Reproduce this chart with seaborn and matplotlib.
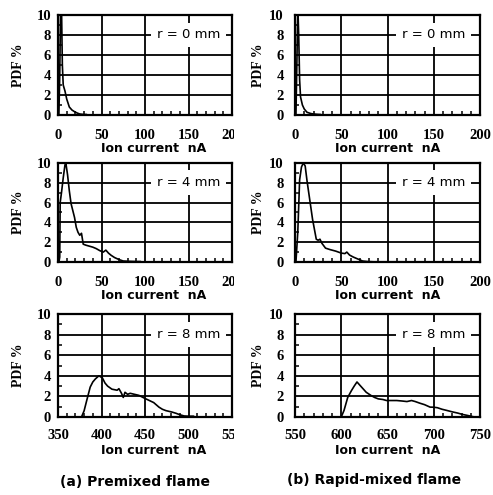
import matplotlib
matplotlib.use('Agg')
import matplotlib.pyplot as plt
import seaborn as sns
import pandas as pd
from matplotlib.ticker import MultipleLocator
from matplotlib.transforms import Bbox, TransformedBbox

# --- data (ion current nA, PDF %) ---
a0_x = [1, 2, 3, 4, 5, 6, 8, 10, 13, 16, 19, 22, 25, 29, 33]
a0_y = [0, 4, 11, 11, 5, 3.0, 2.4, 1.6, 0.8, 0.5, 0.33, 0.2, 0.1, 0.06, 0.05]

b0_x = [1, 2, 3, 4, 5, 6, 8, 10, 13, 17, 20, 24, 28]
b0_y = [0, 5, 11, 8, 3.5, 1.8, 1.0, 0.6, 0.27, 0.15, 0.1, 0.07, 0.05]

a4_x = [1, 2, 2.5, 4, 6, 8, 9, 11, 13, 15, 17, 19, 21, 23, 25, 27, 29, 32, 36, 40,
        44, 48, 52, 55, 58, 61, 65, 70, 75, 82, 90, 95]
a4_y = [0, 0.5, 6.0, 7.0, 8.5, 9.8, 10.0, 8.8, 7.2, 5.9, 5.2, 4.5, 3.5, 3.0, 2.7, 2.9,
        1.8, 1.7, 1.6, 1.5, 1.35, 1.15, 1.0, 1.2, 0.9, 0.68, 0.45, 0.25, 0.1, 0.07, 0.05, 0.05]

b4_x = [1, 3, 5, 7, 9, 11, 13, 15, 17, 19, 21, 23, 25, 27, 29, 33, 38, 44, 50, 54,
        56, 59, 63, 68, 73, 78, 85, 95, 105, 117]
b4_y = [0, 3, 8.3, 9.6, 10, 9.7, 8.2, 6.9, 5.6, 4.3, 3.3, 2.3, 2.2, 2.3, 1.9, 1.4,
        1.25, 1.1, 0.9, 0.85, 1.0, 0.7, 0.5, 0.3, 0.1, 0.05, 0.02, 0.02, 0.02, 0.02]

a8_x = [377, 380, 383, 387, 390, 393, 397, 401, 404, 407, 412, 418, 420, 423, 425, 427,
        430, 433, 438, 443, 450, 455, 460, 466, 470, 474, 481, 486, 490, 495, 500, 506]
a8_y = [0, 0.6, 1.6, 2.9, 3.4, 3.7, 4.0, 3.8, 3.3, 3.0, 2.7, 2.6, 2.75, 2.3, 1.9, 2.4,
        2.2, 2.3, 2.2, 2.1, 1.8, 1.6, 1.4, 0.96, 0.75, 0.62, 0.48, 0.35, 0.22, 0.1, 0.08, 0.08]

b8_x = [600, 603, 607, 611, 614, 617, 619, 622, 627, 632, 636, 640, 645, 649, 655, 660,
        666, 671, 676, 680, 685, 690, 696, 700, 704, 709, 714, 720, 726, 731, 736, 740, 744]
b8_y = [0, 0.64, 1.9, 2.56, 3.0, 3.4, 3.2, 2.9, 2.4, 2.1, 1.9, 1.76, 1.7, 1.6, 1.6, 1.6,
        1.55, 1.5, 1.6, 1.5, 1.34, 1.2, 0.96, 0.95, 0.9, 0.75, 0.64, 0.5, 0.38, 0.25, 0.16, 0.08, 0.0]

radii = ['r = 0 mm', 'r = 4 mm', 'r = 8 mm']
captions = ['(a) Premixed flame', '(b) Rapid-mixed flame']
y_ticks = [0, 2, 4, 6, 8, 10]

sns.set_style("ticks")
plt.rcParams['font.family'] = ['DejaVu Sans']
plt.rcParams['text.color'] = 'black'
plt.rcParams['axes.labelcolor'] = 'black'
plt.rcParams['xtick.color'] = 'black'
plt.rcParams['ytick.color'] = 'black'

W, H = 493, 495
fig = plt.figure(figsize=(W / 100, H / 100), dpi=100)

# panel boxes in pixels: (left, top, right, bottom)
cols = [(58, 232), (295, 480)]
rows = [(15, 115), (163, 262), (314, 417)]
ylab_right = [25, 265]

panels = [
    [(a0_x, a0_y, (0, 200)), (b0_x, b0_y, (0, 200))],
    [(a4_x, a4_y, (0, 200)), (b4_x, b4_y, (0, 200))],
    [(a8_x, a8_y, (350, 550)), (b8_x, b8_y, (550, 750))],
]

tick_font = dict(family='Liberation Serif', weight='bold', size=10.5)

for i, (top, bot) in enumerate(rows):
    for j, (lft, rgt) in enumerate(cols):
        xs, ys, xl = panels[i][j]
        ax = fig.add_axes([lft / W, 1 - bot / H, (rgt - lft) / W, (bot - top) / H])
        df = pd.DataFrame({'x': xs, 'y': ys})
        sns.lineplot(data=df, x='x', y='y', ax=ax, color='black', lw=1.2,
                     sort=False, estimator=None)
        ax.set_xlim(*xl)
        ax.set_ylim(0, 10)
        step = (xl[1] - xl[0]) / 4
        xt = [xl[0] + k * step for k in range(5)]
        ax.set_xticks(xt)
        ax.set_xticklabels([str(int(v)) for v in xt], fontdict=tick_font)
        ax.set_yticks(y_ticks)
        ax.set_yticklabels([str(v) for v in y_ticks], fontdict=tick_font)
        ax.xaxis.set_minor_locator(MultipleLocator(10))
        ax.yaxis.set_minor_locator(MultipleLocator(1))
        ax.tick_params(axis='x', which='major', direction='in', length=0, pad=10 if i < 2 else 8.5)
        ax.tick_params(axis='y', which='major', direction='in', length=0, pad=5 if j == 0 else 8)
        ax.tick_params(which='minor', direction='in', length=3, width=1.1, color='black')
        ax.grid(True, which='major', color='black', lw=1.3)
        for s in ax.spines.values():
            s.set_linewidth(1.6)
            s.set_color('black')
            s.set_visible(True)
        ax.set_axisbelow(True)
        ax.set_xlabel('Ion current  nA', fontsize=9, weight='bold', va='center')
        ax.xaxis.set_label_coords(0.55 if j == 0 else 0.5, -0.335 if i < 2 else -0.325)
        ax.set_ylabel('PDF %', family='Liberation Serif', weight='bold', fontsize=10)
        ax.yaxis.set_label_coords(-(lft - ylab_right[j]) / (rgt - lft), 0.5)
        ax.text(0.75, 0.8, radii[i], transform=ax.transAxes, ha='center', va='center',
                fontsize=9.5, zorder=5,
                bbox=dict(boxstyle='square,pad=0.45', fc='white', ec='none'))
        if j == 0:
            # scan is cropped just right of the left column
            lab = ax.get_xticklabels()[-1]
            lab.set_clip_on(True)
            lab.set_clip_box(TransformedBbox(Bbox([[0, 0], [234 / W, 1]]), fig.transFigure))

fig.text(135 / W, 1 - 482 / H, captions[0], ha='center', va='center', fontsize=10, weight='bold')
fig.text(374 / W, 1 - 480 / H, captions[1], ha='center', va='center', fontsize=10, weight='bold')

fig.savefig('out.png', dpi=100)
